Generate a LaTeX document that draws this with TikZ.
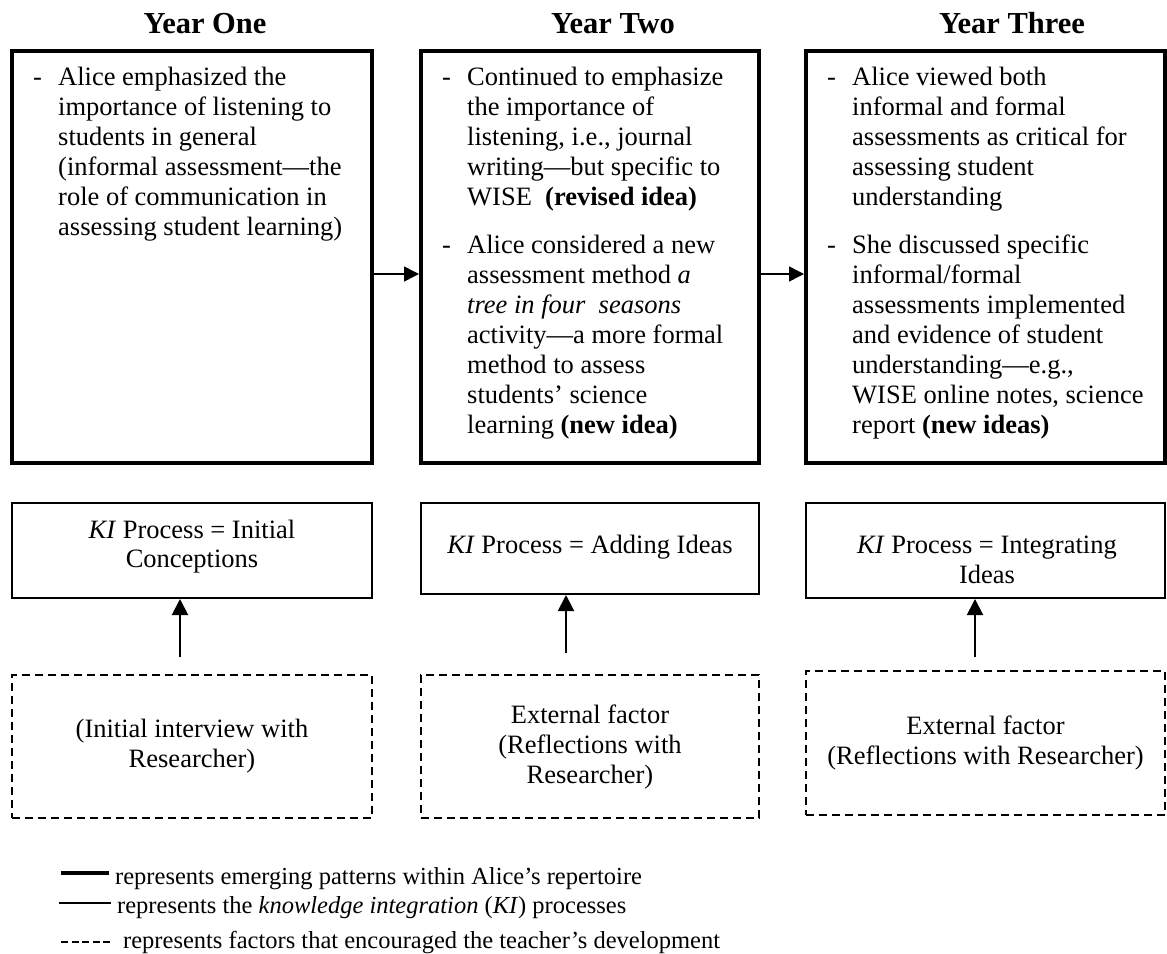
\documentclass[tikz,border=0pt]{standalone}
\usepackage{fontspec}
\setmainfont{Liberation Serif}
\usetikzlibrary{arrows.meta}
\newcommand\txtbody{\fontsize{26.5pt}{30pt}\selectfont}
\begin{document}
\begin{tikzpicture}[x=1pt,y=-1pt,
  bigbox/.style={draw, line width=4pt, inner sep=0pt},
  kibox/.style={draw, line width=2pt, inner sep=0pt},
  factorbox/.style={draw, line width=2pt, dash pattern=on 8pt off 5pt,
    inner sep=0pt, align=center, font=\txtbody},
  body/.style={font=\txtbody, inner sep=0pt, anchor=base west},
  ctext/.style={font=\txtbody, inner sep=0pt, anchor=base},
  heading/.style={font=\fontsize{30.5pt}{36pt}\selectfont\bfseries, inner sep=0pt, anchor=base},
  legendtext/.style={font=\fontsize{24.5pt}{28pt}\selectfont, inner sep=0pt, anchor=base west},
  flow/.style={line width=1.5pt, -{Triangle[length=15pt,width=15pt]}},
  feed/.style={line width=2pt, -{Triangle[length=16pt,width=16pt]}},
]
\useasboundingbox (0,0) rectangle (1167,953);

% column headings
\node[heading] (h1) at (205,33) {Year One};
\node[heading] (h2) at (613,33) {Year Two};
\node[heading] (h3) at (1012,33) {Year Three};

% yearly repertoire boxes
\node[bigbox, minimum width=360pt, minimum height=412pt] (y1) at (192,257) {};
\node[bigbox, minimum width=338pt, minimum height=412pt] (y2) at (590,257) {};
\node[bigbox, minimum width=359pt, minimum height=412pt] (y3) at (985.5,257) {};

% bullets
\node[body] (d1) at (33,85) {-};
\node[body] (d2a) at (442,85) {-};
\node[body] (d2b) at (442,253) {-};
\node[body] (d3a) at (827,85) {-};
\node[body] (d3b) at (827,253) {-};

\foreach \t [count=\i from 0] in {{Alice emphasized the},{importance of listening to},
  {students in general},{(informal assessment—the},{role of communication in},
  {assessing student learning)}}
  \node[body] (one-\i) at (58,{85+30*\i}) {\t};

\foreach \t [count=\i from 0] in {{Continued to emphasize},{the importance of},
  {listening, i.e., journal},{writing—but specific to},{WISE \ \textbf{(revised idea)}}}
  \node[body] (twoa-\i) at (467,{85+30*\i}) {\t};
\foreach \t [count=\i from 0] in {{Alice considered a new},{assessment method \textit{a}},
  {\textit{tree in four \ seasons}},{activity—a more formal},{method to assess},
  {students’ science},{learning \textbf{(new idea)}}}
  \node[body] (twob-\i) at (467,{253+30*\i}) {\t};

\foreach \t [count=\i from 0] in {{Alice viewed both},{informal and formal},
  {assessments as critical for},{assessing student},{understanding}}
  \node[body] (threea-\i) at (852,{85+30*\i}) {\t};
\foreach \t [count=\i from 0] in {{She discussed specific},{informal/formal},
  {assessments implemented},{and evidence of student},{understanding—e.g.,},
  {WISE online notes, science},{report \textbf{(new ideas)}}}
  \node[body] (threeb-\i) at (852,{253+30*\i}) {\t};

% progression between years
\coordinate (hl) at (0,274);
\draw[flow] (y1.east |- hl) -- (y2.west |- hl);
\draw[flow] (y2.east |- hl) -- (y3.west |- hl);

% knowledge integration processes
\node[kibox, minimum width=360pt, minimum height=95pt] (ka) at (192,550.5) {};
\node[kibox, minimum width=338pt, minimum height=91pt] (kb) at (590,548.5) {};
\node[kibox, minimum width=359pt, minimum height=95pt] (kc) at (985.5,550.5) {};
\node[ctext] (ka-1) at (192,538) {\textit{KI} Process = Initial};
\node[ctext] (ka-2) at (192,567) {Conceptions};
\node[ctext] (kb-1) at (590,553) {\textit{KI} Process = Adding Ideas};
\node[ctext] (kc-1) at (987,553) {\textit{KI} Process = Integrating};
\node[ctext] (kc-2) at (987,583) {Ideas};

% encouraging factors
\node[factorbox, minimum width=360pt, minimum height=143pt] (fa) at (192,746.5)
  {(Initial interview with\\Researcher)};
\node[factorbox, minimum width=338pt, minimum height=143pt] (fb) at (590,746.5)
  {External factor\\(Reflections with\\Researcher)};
\node[factorbox, minimum width=359pt, minimum height=144pt] (fc) at (985.5,743)
  {External factor\\(Reflections with Researcher)};

\coordinate (va) at (180,0);
\coordinate (vb) at (566,0);
\coordinate (vc) at (975,0);
\draw[feed, shorten <=17pt] (fa.north -| va) -- (ka.south -| va);
\draw[feed, shorten <=21pt] (fb.north -| vb) -- (kb.south -| vb);
\draw[feed, shorten <=13pt] (fc.north -| vc) -- (kc.south -| vc);

% key
\coordinate (k1a) at (61,873);  \coordinate (k1b) at (109,873);
\coordinate (k2a) at (59,903);  \coordinate (k2b) at (111,903);
\coordinate (k3a) at (61,942);  \coordinate (k3b) at (110,942);
\draw[line width=4.5pt] (k1a) -- (k1b);
\draw[line width=1.5pt] (k2a) -- (k2b);
\draw[line width=1.5pt, dash pattern=on 7pt off 3.5pt] (k3a) -- (k3b);
\node[legendtext] (l1) at (115,884) {represents emerging patterns within Alice’s repertoire};
\node[legendtext] (l2) at (117,913) {represents the \textit{knowledge integration} (\textit{KI}) processes};
\node[legendtext] (l3) at (123,948) {represents factors that encouraged the teacher’s development};
\end{tikzpicture}
\end{document}
